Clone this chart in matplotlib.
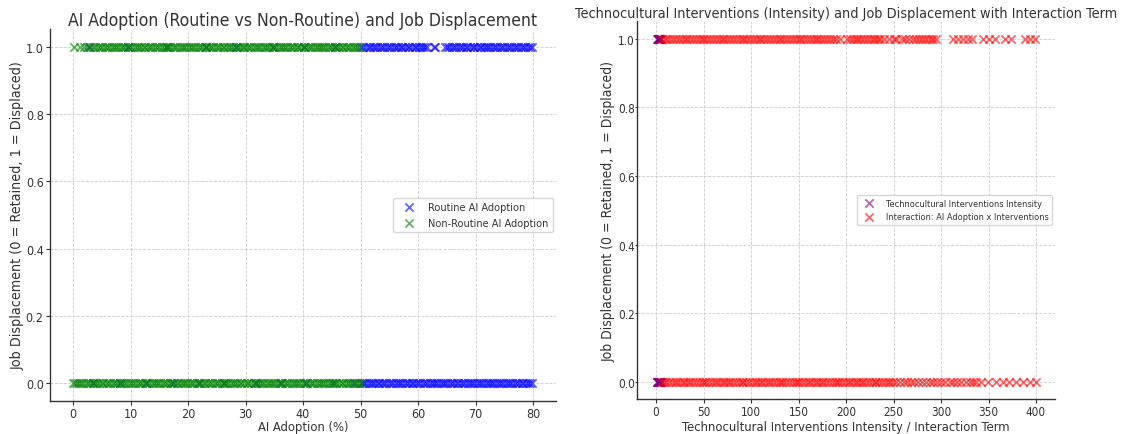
import matplotlib
matplotlib.use("Agg")
import matplotlib.pyplot as plt

# AI adoption (%) for routine / non-routine jobs, split by outcome
nonroutine_retained = [0.0, 0.3, 0.7, 1.1, 1.4, 1.8, 2.3, 2.6, 3.0, 3.5, 3.8, 4.2, 4.6, 5.0, 5.3, 5.8,
                       6.1, 6.5, 7.0, 7.3, 7.7, 8.2, 8.5, 8.9, 9.3, 9.7, 10.1, 10.5, 10.8, 11.3, 11.6,
                       12.0, 12.5, 12.8, 13.2, 13.7, 14.0, 14.4, 14.8, 15.2, 15.6, 16.0, 16.3, 16.8,
                       17.1, 17.5, 18.0, 18.3, 18.7, 19.2, 19.5, 19.9, 20.4, 20.7, 21.1, 21.5, 21.9,
                       22.3, 22.7, 23.0, 23.5, 23.8, 24.2, 24.7, 25.0, 25.4, 25.9, 26.2, 26.6, 27.0,
                       27.4, 27.8, 28.2, 28.5, 29.0, 29.3, 29.7, 30.2, 30.5, 30.9, 31.4, 31.7, 32.1,
                       32.5, 32.9, 33.3, 33.7, 34.0, 34.5, 34.8, 35.2, 35.7, 36.0, 36.4, 36.9, 37.2,
                       37.6, 38.0, 38.4, 38.8, 39.2, 39.5, 40.0, 40.3, 40.7, 41.2, 41.5, 41.9, 42.4,
                       42.7, 43.1, 43.5, 43.9, 44.3, 44.7, 45.0, 45.5, 45.8, 46.2, 46.7, 47.0, 47.4,
                       47.9, 48.2, 48.6, 49.0, 49.4, 49.8, 50.1]
nonroutine_displaced = [0.1, 1.2, 1.9, 2.5, 3.0, 3.4, 3.9, 4.3, 4.7, 5.1, 5.6, 5.9, 6.3, 6.8, 7.1, 7.5,
                        7.9, 8.4, 8.7, 9.1, 9.6, 9.9, 10.3, 10.7, 11.1, 11.5, 11.9, 12.3, 12.6, 13.1,
                        13.4, 13.8, 14.3, 14.6, 15.0, 15.4, 15.8, 16.2, 16.6, 16.9, 17.4, 17.7, 18.1,
                        18.6, 18.9, 19.3, 19.7, 20.1, 20.5, 20.9, 21.2, 21.7, 22.0, 22.4, 22.9, 23.2,
                        23.6, 24.0, 24.4, 24.8, 25.2, 25.5, 26.0, 26.3, 26.7, 27.2, 27.5, 27.9, 28.3,
                        28.7, 29.1, 29.5, 29.8, 30.3, 30.6, 31.0, 31.5, 31.8, 32.2, 32.6, 33.0, 33.4,
                        33.8, 34.1, 34.6, 34.9, 35.3, 35.8, 36.1, 36.5, 36.9, 37.3, 37.7, 38.1, 38.4,
                        38.9, 39.2, 39.6, 40.1, 40.4, 40.8, 41.2, 41.6, 42.0, 42.4, 42.7, 43.2, 43.5,
                        43.9, 44.4, 44.7, 45.1, 45.5, 45.9, 46.3, 46.7, 47.0, 47.5, 47.8, 48.2, 48.7,
                        49.0, 49.4, 49.8]
routine_retained = [3.5, 8.2, 12.7, 17.4, 21.9, 26.3, 31.8, 36.1, 40.6, 45.2, 48.9, 50.2, 50.6, 51.0,
                    51.4, 51.8, 52.2, 52.6, 53.0, 53.3, 53.8, 54.1, 54.5, 55.0, 55.3, 55.7, 56.2,
                    56.5, 56.9, 57.3, 57.7, 58.1, 58.5, 58.9, 59.2, 59.7, 60.0, 60.4, 60.9, 61.2,
                    61.6, 62.0, 62.4, 62.8, 63.2, 63.5, 64.0, 64.3, 64.7, 65.1, 65.5, 65.9, 66.3,
                    66.7, 67.0, 67.5, 67.8, 68.2, 68.7, 69.0, 69.4, 69.8, 70.2, 70.6, 71.0, 71.3,
                    71.8, 72.1, 72.5, 72.9, 73.3, 73.7, 74.1, 74.5, 74.8, 75.3, 75.6, 76.0, 76.4,
                    76.8, 77.2, 77.6, 78.0, 78.3, 78.8, 79.1, 79.5, 79.9]
routine_displaced = [2.8, 9.6, 16.3, 23.1, 28.4, 34.7, 40.2, 45.5, 50.1, 50.5, 50.9, 51.4, 51.7, 52.1,
                     52.6, 52.9, 53.4, 53.7, 54.1, 54.6, 54.9, 55.3, 55.8, 56.1, 56.5, 57.0, 57.3,
                     57.7, 58.2, 58.5, 58.9, 59.4, 59.7, 60.1, 60.6, 60.9, 61.3, 61.6, 62.7, 63.0,
                     64.7, 65.0, 65.4, 65.9, 66.2, 66.6, 67.1, 67.4, 67.8, 68.3, 68.6, 69.0, 69.5,
                     69.8, 70.2, 70.7, 71.0, 71.4, 71.9, 72.2, 72.6, 73.1, 73.4, 73.8, 74.3, 74.6,
                     75.0, 75.5, 75.8, 76.2, 76.7, 77.0, 77.4, 77.9, 78.2, 78.6, 79.1, 79.4, 79.8]

# Technocultural intervention intensity and the adoption x intensity interaction
intensity_retained = [1.2, 1.5, 1.8, 2.5, 2.9, 3.1, 3.7, 4.1, 4.4, 4.9]
intensity_displaced = [1.1, 1.6, 2.0, 2.4, 2.8, 3.3, 3.6, 4.0, 4.5, 5.0]
interaction_retained = [6, 8, 11, 14, 17, 20, 22, 25, 28, 31, 34, 36, 39, 42, 45, 48, 50, 53, 56, 59,
                        62, 64, 67, 70, 73, 76, 78, 81, 84, 87, 90, 92, 95, 98, 101, 104, 106, 109,
                        112, 115, 118, 120, 123, 126, 129, 132, 134, 137, 140, 143, 146, 148, 151,
                        154, 157, 160, 162, 165, 168, 171, 174, 176, 179, 182, 185, 188, 190, 193,
                        196, 199, 202, 204, 207, 210, 213, 216, 218, 221, 224, 227, 230, 232, 235,
                        238, 241, 244, 246, 249, 253, 257, 261, 264, 268, 272, 276, 280, 284, 288,
                        292, 296, 300, 304, 309, 313, 317, 321, 326, 330, 334, 337, 342, 349, 358,
                        365, 372, 379, 386, 394, 400]
interaction_displaced = [6, 9, 12, 15, 18, 21, 24, 27, 30, 33, 36, 39, 42, 45, 48, 51, 54, 57, 60, 63,
                         66, 69, 72, 75, 78, 81, 84, 87, 90, 93, 96, 99, 102, 105, 108, 111, 114, 117,
                         120, 123, 126, 129, 132, 135, 138, 141, 144, 147, 150, 153, 156, 159, 162,
                         165, 168, 171, 174, 177, 180, 183, 186, 189, 194, 201, 204, 207, 210, 213,
                         216, 219, 222, 225, 228, 231, 234, 236, 240, 245, 250, 253, 259, 262, 266,
                         270, 274, 277, 280, 283, 286, 289, 292, 295, 313, 318, 323, 328, 333, 344,
                         350, 357, 367, 374, 388, 394, 399]

left_xticks = [0, 10, 20, 30, 40, 50, 60, 70, 80]
right_xticks = [0, 50, 100, 150, 200, 250, 300, 350, 400]
yticks = [0.0, 0.2, 0.4, 0.6, 0.8, 1.0]

TEXT = "#333333"
plt.rcParams.update({
    "font.family": ["DejaVu Sans"],
    "font.stretch": "condensed",
    "text.color": TEXT,
    "axes.labelcolor": TEXT,
    "xtick.color": TEXT,
    "ytick.color": TEXT,
})

fig = plt.figure(figsize=(11.21, 4.35), dpi=100)
ax1 = fig.add_axes([50 / 1121, 33 / 435, 506 / 1121, 372 / 435])
ax2 = fig.add_axes([637 / 1121, 35 / 435, 418 / 1121, 378 / 435])

MS = 36
AL = 0.6
LW = 1.3


def style(ax, tick_size, ypad):
    for side in ("top", "right"):
        ax.spines[side].set_visible(False)
    for side in ("left", "bottom"):
        ax.spines[side].set_color("#333333")
        ax.spines[side].set_linewidth(1.0)
    ax.grid(True, linestyle="--", color="#cccccc", linewidth=0.6)
    ax.set_axisbelow(True)
    ax.tick_params(labelsize=tick_size, length=3, width=0.8)
    ax.tick_params(axis="x", pad=1.5)
    ax.tick_params(axis="y", pad=ypad)
    ax.set_yticks(yticks)


def yvals(xs, v):
    return [v] * len(xs)


# Left panel: routine vs non-routine adoption
ax1.scatter(routine_retained + routine_displaced,
            yvals(routine_retained, 0) + yvals(routine_displaced, 1),
            marker="x", color="blue", alpha=AL, s=MS, linewidths=LW, label="Routine AI Adoption")
ax1.scatter(nonroutine_retained + nonroutine_displaced,
            yvals(nonroutine_retained, 0) + yvals(nonroutine_displaced, 1),
            marker="x", color="green", alpha=AL, s=MS, linewidths=LW, label="Non-Routine AI Adoption")
style(ax1, 9, 1.5)
ax1.set_xticks(left_xticks)
ax1.set_xlim(-4, 84)
ax1.set_ylim(-0.055, 1.055)
ax1.set_title("AI Adoption (Routine vs Non-Routine) and Job Displacement", fontsize=12.6, pad=3)
ax1.set_xlabel("AI Adoption (%)", fontsize=9.3)
ax1.xaxis.set_label_coords(0.5, -0.052)
ax1.set_ylabel("Job Displacement (0 = Retained, 1 = Displaced)", fontsize=10.3)
ax1.yaxis.set_label_coords(-0.05, 0.5)
ax1.legend(loc="center right", fontsize=7.8, frameon=True, edgecolor="#cccccc", borderaxespad=0.3)

# Right panel: intervention intensity and interaction term
ax2.scatter(intensity_retained + intensity_displaced,
            yvals(intensity_retained, 0) + yvals(intensity_displaced, 1),
            marker="x", color="purple", alpha=AL, s=MS, linewidths=LW,
            label="Technocultural Interventions Intensity")
ax2.scatter(interaction_retained + interaction_displaced,
            yvals(interaction_retained, 0) + yvals(interaction_displaced, 1),
            marker="x", color="red", alpha=AL, s=MS, linewidths=LW,
            label="Interaction: AI Adoption x Interventions")
style(ax2, 8.4, 0.2)
ax2.tick_params(axis="y", length=1.5)
ax2.set_xticks(right_xticks)
ax2.set_xlim(-20, 420)
ax2.set_ylim(-0.05, 1.052)
ax2.set_title("Technocultural Interventions (Intensity) and Job Displacement with Interaction Term",
              fontsize=10.4, pad=3)
ax2.set_xlabel("Technocultural Interventions Intensity / Interaction Term", fontsize=9.4)
ax2.xaxis.set_label_coords(0.5, -0.055)
ax2.set_ylabel("Job Displacement (0 = Retained, 1 = Displaced)", fontsize=10.0)
ax2.yaxis.set_label_coords(-0.05, 0.5)
ax2.legend(loc="center right", fontsize=6.6, frameon=True, edgecolor="#cccccc", borderaxespad=0.3)

fig.savefig("out.png", dpi=100)
